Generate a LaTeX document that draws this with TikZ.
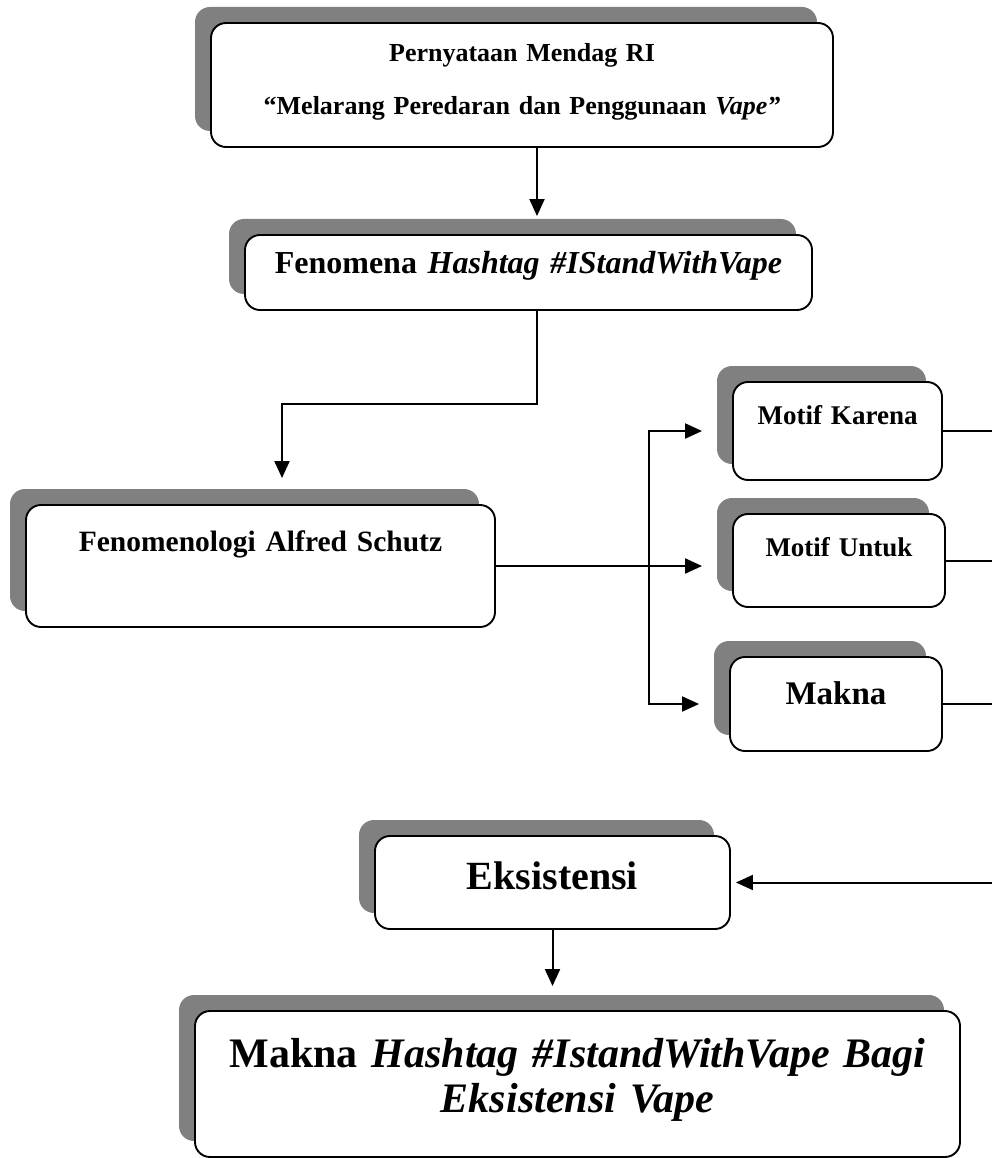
\documentclass[tikz,border=0pt]{standalone}
\usepackage{fontspec}
\setmainfont{Liberation Serif}
\usetikzlibrary{arrows.meta,shadows}

\tikzset{
  kotak/.style={draw, line width=1.9pt, rounded corners=15pt, fill=white,
    align=center, inner sep=0pt,
    drop shadow={shadow xshift=-16pt, shadow yshift=16pt, fill=black!50, opacity=1}},
  garis/.style={line width=2pt},
  panah/.style={line width=2pt, -{Triangle[length=17pt,width=15pt]}}
}

\begin{document}
\begin{tikzpicture}[x=1pt, y=-1pt]
  \useasboundingbox (0,0) rectangle (992,1158);

  % Kotak utama
  \node[kotak, anchor=base, text width=622pt, text height=39pt, text depth=85pt,
    font=\fontsize{26}{53}\selectfont\bfseries] (pernyataan) at (522,62)
    {Pernyataan Mendag RI\\ ``Melarang Peredaran dan Penggunaan \textit{Vape''}};
  \node[kotak, anchor=base, text width=567pt, text height=38pt, text depth=37pt,
    font=\fontsize{32}{38}\selectfont\bfseries] (fenomena) at (528.5,273)
    {Fenomena \textit{Hashtag \#IStandWithVape}};
  \node[kotak, anchor=base, text width=469pt, text height=46pt, text depth=76pt,
    font=\fontsize{29.5}{36}\selectfont\bfseries] (schutz) at (260.5,551)
    {Fenomenologi Alfred Schutz};

  % Motif
  \node[kotak, anchor=base, text width=209pt, text height=42pt, text depth=56pt,
    font=\fontsize{27}{32}\selectfont\bfseries] (karena) at (837.5,424) {Motif Karena};
  \node[kotak, anchor=base, text width=212pt, text height=42pt, text depth=51pt,
    font=\fontsize{27}{32}\selectfont\bfseries] (untuk) at (839,556) {Motif Untuk};
  \node[kotak, anchor=base, text width=212pt, text height=47pt, text depth=47pt,
    font=\fontsize{33}{38}\selectfont\bfseries] (makna) at (836,704) {Makna};

  % Hasil
  \node[kotak, anchor=base, text width=355pt, text height=53pt, text depth=40pt,
    font=\fontsize{40}{46}\selectfont\bfseries] (eksis) at (552.5,889) {Eksistensi};
  \node[kotak, anchor=base, text width=765pt, text height=56pt, text depth=90pt,
    font=\fontsize{42}{45}\selectfont\bfseries] (hasil) at (577.5,1067)
    {Makna \textit{Hashtag \#IstandWithVape Bagi}\\ \textit{Eksistensi Vape}};

  % Titik bantu
  \coordinate (a1) at ([xshift=15pt]pernyataan.south);
  \coordinate (a2) at ([xshift=8.5pt]fenomena.south);
  \coordinate (belok) at (282,404);
  \coordinate (cabang) at (649,0);
  \coordinate (tepi) at (992,0);

  % Panah
  \draw[panah, shorten >=18pt] (a1) -- (a1 |- fenomena.north);
  \draw[panah, shorten >=26pt] (a2) |- (belok) -- (belok |- schutz.north);
  \draw[panah, shorten >=30pt] (schutz.east) -- (schutz.east -| untuk.west);
  \draw[line width=2pt, {Triangle[length=17pt,width=15pt]}-{Triangle[length=17pt,width=15pt]},
    shorten <=30pt, shorten >=30pt]
    (karena.west) -- (karena.west -| cabang) -- (makna.west -| cabang) -- (makna.west);

  % Garis ke kanan
  \draw[garis] (karena.east) -- (karena.east -| tepi);
  \draw[garis] (untuk.east) -- (untuk.east -| tepi);
  \draw[garis] (makna.east) -- (makna.east -| tepi);
  \draw[panah, shorten >=5pt] (eksis.east -| tepi) -- (eksis.east);
  \draw[panah, shorten >=24pt] (eksis.south) -- (eksis.south |- hasil.north);
\end{tikzpicture}
\end{document}
